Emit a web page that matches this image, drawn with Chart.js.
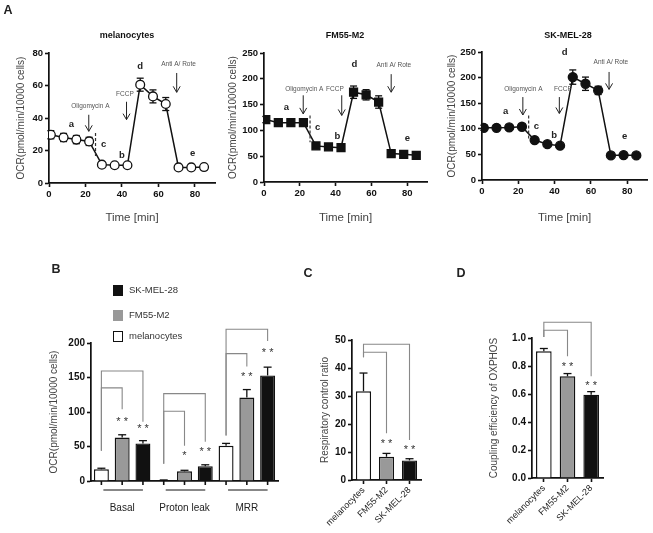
<!DOCTYPE html>
<html>
<head>
<meta charset="utf-8">
<title>Mitochondrial respiration</title>
<script src="https://cdn.jsdelivr.net/npm/chart.js@4.4.1/dist/chart.umd.min.js"></script>
<style>
  html, body { margin: 0; padding: 0; background: #fff; }
  body { position: relative; width: 653px; height: 533px; overflow: hidden; font-family: "Liberation Sans", Arial, sans-serif; }
  canvas { position: absolute; left: 0; top: 0; }
  .txt { position: absolute; transform: translate(-50%, -50%); white-space: nowrap; color: #222; }
  .panel { font-weight: bold; font-size: 12.5px; }
  .ptitle { font-weight: bold; font-size: 9px; color: #111; }
  .leg { position: absolute; font-size: 9.5px; color: #333; white-space: nowrap; }
  .leg i { position: absolute; left: -16px; top: 1px; width: 8px; height: 9px; border: 1px solid #111; }
</style>
</head>
<body>
<canvas id="a1" width="653" height="533"></canvas>
<canvas id="a2" width="653" height="533"></canvas>
<canvas id="a3" width="653" height="533"></canvas>
<canvas id="b" width="653" height="533"></canvas>
<canvas id="c" width="653" height="533"></canvas>
<canvas id="d" width="653" height="533"></canvas>
<div id="labels"></div>
<script>
// ---------- data ----------
const timePoints = [1, 8, 15, 22, 29, 36, 43, 50, 57, 64, 71, 78, 85];
const timeTicks = [0, 20, 40, 60, 80];

const melanocyteOcr = [29.7, 28, 26.7, 25.6, 11.3, 10.9, 10.9, 60.5, 53.3, 48.6, 9.6, 9.6, 9.8];
const melanocyteOcrErr = [2.5, 2.5, 2.5, 2.5, 0.6, 0.5, 0.5, 4, 4, 4, 0.4, 0.4, 0.4];
const fm55Ocr = [121, 115, 115, 115, 70, 68, 66.5, 174, 169, 155, 55, 53.6, 51.7];
const fm55OcrErr = [6, 6, 6, 6, 2, 1.5, 2, 12, 10, 12, 1.5, 1.5, 1.5];
const skmelOcr = [102, 102, 102.6, 104, 78, 70, 67, 201, 188, 175, 48, 48.7, 48];
const skmelOcrErr = [5, 5, 5, 5, 2, 1.5, 1.5, 14, 13, 8, 1.5, 1.5, 1.5];

const ocrTicksMel = [0, 20, 40, 60, 80];
const ocrTicksTumor = [0, 50, 100, 150, 200, 250];

const cellLines = ['melanocytes', 'FM55-M2', 'SK-MEL-28'];
const parameters = ['Basal', 'Proton leak', 'MRR'];
const melanocyteParams = [17, 1, 51];
const melanocyteParamsErr = [1.5, 0.5, 3.5];
const fm55Params = [63, 14, 121];
const fm55ParamsErr = [4, 1.5, 11.5];
const skmelParams = [54.5, 21.5, 153];
const skmelParamsErr = [4, 2, 12];
const paramTicks = [0, 50, 100, 150, 200];

const rcrValues = [31.7, 8.3, 7];
const rcrErr = [6.5, 1.2, 0.6];
const rcrTicks = [0, 10, 20, 30, 40, 50];

const couplingValues = [0.905, 0.726, 0.595];
const couplingErr = [0.02, 0.02, 0.022];
const couplingTicks = [0, 0.2, 0.4, 0.6, 0.8, 1.0];

// ---------- annotations (data coordinates) ----------
const melNotes = {
  letters: [['a', 12.3, 36], ['b', 40, 17], ['c', 30, 24], ['d', 50, 72], ['e', 78.8, 18]],
  drugs: [['Oligomycin A', 22.7, 47, 21.8, 42, 31.8], ['FCCP', 41.6, 54.4, 42.5, 50, 39], ['Anti A/ Rote', 71, 73, 70, 67.7, 55.8]],
  dash: [25.5, 30.8, 16.4]
};
const fm55Notes = {
  letters: [['a', 12.5, 144], ['b', 41, 88.5], ['c', 30, 105], ['d', 50.4, 228], ['e', 80, 84]],
  drugs: [['Oligomycin A', 22.5, 179, 21.9, 168, 132], ['FCCP', 39.6, 179, 43.4, 168, 129], ['Anti A/ Rote', 72.5, 227, 71, 209, 174]],
  dash: [25.7, 129, 77]
};
const skmelNotes = {
  letters: [['a', 13, 135], ['b', 39.7, 88], ['c', 30, 104], ['d', 45.5, 250], ['e', 78.6, 86]],
  drugs: [['Oligomycin A', 22.8, 177, 22.5, 162, 127], ['FCCP', 44.6, 177, 42.6, 162, 130], ['Anti A/ Rote', 71, 230, 70, 211, 177]],
  dash: [25.7, 126, 81]
};

// significance brackets: from/to = [datasetIndex, dataIndex]
const paramBrackets = [
  { from: [0, 0], to: [1, 0], top: 135, fromLow: 44, toLow: 104, star: '* *', starY: 90.5 },
  { from: [0, 0], to: [2, 0], top: 159.5, fromLow: 44, toLow: 86, star: '* *', starY: 81 },
  { from: [0, 1], to: [1, 1], top: 101, fromLow: 25, toLow: 51, star: '*', starY: 41.5 },
  { from: [0, 1], to: [2, 1], top: 126.7, fromLow: 25, toLow: 57, star: '* *', starY: 47 },
  { from: [0, 2], to: [1, 2], top: 184.6, fromLow: 66, toLow: 166, star: '* *', starY: 156 },
  { from: [0, 2], to: [2, 2], top: 220, fromLow: 66, toLow: 203, star: '* *', starY: 190 }
];
const rcrBrackets = [
  { from: [0, 0], to: [0, 1], top: 45.6, fromLow: 43.8, toLow: 16.7, star: '* *', starY: 14 },
  { from: [0, 0], to: [0, 2], top: 48.5, fromLow: 43.8, toLow: 14.3, star: '* *', starY: 11.9 }
];
const couplingBrackets = [
  { from: [0, 0], to: [0, 1], top: 1.055, fromLow: 1.007, toLow: 0.869, star: '* *', starY: 0.82 },
  { from: [0, 0], to: [0, 2], top: 1.112, fromLow: 1.007, toLow: 0.726, star: '* *', starY: 0.68 }
];

// ---------- styling helpers ----------
const W = 653, H = 533;
const FONT = '"Liberation Sans", Arial, sans-serif';
const barColors = ['#ffffff', '#999999', '#111111'];

function layoutFor(area, yW, xH) {
  return { padding: { left: area.left - yW, top: area.top, right: W - area.right, bottom: H - area.bottom - xH } };
}

function valueAxis(tickList, title, width, tickSize, fmt) {
  return {
    min: tickList[0],
    max: tickList[tickList.length - 1],
    border: { color: '#111', width: 1.7 },
    grid: { drawOnChartArea: false, tickLength: 4, tickColor: '#111', tickWidth: 1.6 },
    ticks: { padding: 2, color: '#111', font: { family: FONT, size: tickSize, weight: 'bold' }, callback: fmt || (v => v) },
    afterBuildTicks: s => { s.ticks = tickList.map(v => ({ value: v })); },
    title: { display: true, text: title, color: '#444', padding: 0, font: { family: FONT, size: 10 } },
    afterFit: s => { s.width = width; }
  };
}

function timeAxis(height) {
  return {
    type: 'linear',
    min: 0, max: 91,
    border: { color: '#111', width: 1.7 },
    grid: { drawOnChartArea: false, tickLength: 4, tickColor: '#111', tickWidth: 1.6 },
    ticks: { padding: 2, color: '#111', font: { family: FONT, size: 9.5, weight: 'bold' } },
    afterBuildTicks: s => { s.ticks = timeTicks.map(v => ({ value: v })); },
    title: { display: true, text: 'Time [min]', color: '#444', padding: 0, font: { family: FONT, size: 11.5 } },
    afterFit: s => { s.height = height; }
  };
}

function line(ctx, x1, y1, x2, y2) {
  ctx.beginPath(); ctx.moveTo(x1, y1); ctx.lineTo(x2, y2); ctx.stroke();
}

// error bars behind markers, plus arrows / letters / dashed marker
function seahorsePlugin(values, errs, notes) {
  return {
    id: 'seahorse',
    beforeDatasetsDraw(chart) {
      const { ctx, scales: { x, y } } = chart;
      ctx.save();
      ctx.strokeStyle = '#111'; ctx.lineWidth = 1.3;
      errs.forEach((e, i) => {
        const px = x.getPixelForValue(timePoints[i]);
        const yt = y.getPixelForValue(values[i] + e), yb = y.getPixelForValue(values[i] - e);
        line(ctx, px, yt, px, yb);
        line(ctx, px - 3.5, yt, px + 3.5, yt);
        line(ctx, px - 3.5, yb, px + 3.5, yb);
      });
      ctx.restore();
    },
    afterDatasetsDraw(chart) {
      const { ctx, scales: { x, y } } = chart;
      ctx.save();
      ctx.textAlign = 'center'; ctx.textBaseline = 'middle';
      ctx.fillStyle = '#222';
      ctx.font = 'bold 9.5px ' + FONT;
      notes.letters.forEach(([t, lx, ly]) => ctx.fillText(t, x.getPixelForValue(lx), y.getPixelForValue(ly)));
      ctx.font = '6.5px ' + FONT;
      ctx.fillStyle = '#555';
      ctx.strokeStyle = '#222'; ctx.lineWidth = 1;
      notes.drugs.forEach(([t, tx, ty, ax, a1, a2]) => {
        ctx.fillText(t, x.getPixelForValue(tx), y.getPixelForValue(ty));
        const px = x.getPixelForValue(ax), p1 = y.getPixelForValue(a1), p2 = y.getPixelForValue(a2);
        line(ctx, px, p1, px, p2);
        ctx.beginPath(); ctx.moveTo(px - 3.5, p2 - 6); ctx.lineTo(px, p2); ctx.lineTo(px + 3.5, p2 - 6); ctx.stroke();
      });
      const [dx, d1, d2] = notes.dash;
      ctx.setLineDash([3, 2]); ctx.lineWidth = 1.2; ctx.strokeStyle = '#333';
      line(ctx, x.getPixelForValue(dx), y.getPixelForValue(d1), x.getPixelForValue(dx), y.getPixelForValue(d2));
      ctx.restore();
    }
  };
}

function seahorseChart(id, values, errs, notes, cfg) {
  return new Chart(document.getElementById(id), {
    type: 'line',
    data: {
      datasets: [{
        data: timePoints.map((t, i) => ({ x: t, y: values[i] })),
        borderColor: '#111', borderWidth: 1.5, tension: 0,
        pointStyle: cfg.pointStyle, pointRadius: cfg.pointRadius, pointBorderWidth: 1.3,
        pointBackgroundColor: cfg.fill, pointBorderColor: '#111'
      }]
    },
    options: {
      responsive: false, animation: false, events: [],
      layout: layoutFor(cfg.area, cfg.yW, cfg.xH),
      plugins: { legend: { display: false }, tooltip: { enabled: false } },
      scales: {
        x: timeAxis(cfg.xH),
        y: valueAxis(cfg.ticks, 'OCR(pmol/min/10000 cells)', cfg.yW, 9.5)
      }
    },
    plugins: [seahorsePlugin(values, errs, notes)]
  });
}

// upper error bars, significance brackets, optional grouped ticks
function barPlugin(errors, brackets, grouped) {
  return {
    id: 'barmarks',
    afterDatasetsDraw(chart) {
      const { ctx } = chart;
      const y = chart.scales.y;
      ctx.save();
      ctx.strokeStyle = '#111'; ctx.lineWidth = 1.3;
      chart.data.datasets.forEach((ds, di) => {
        chart.getDatasetMeta(di).data.forEach((bar, i) => {
          const yt = y.getPixelForValue(ds.data[i] + errors[di][i]);
          line(ctx, bar.x, bar.y, bar.x, yt);
          line(ctx, bar.x - 4, yt, bar.x + 4, yt);
        });
      });
      if (grouped) {
        const bottom = chart.chartArea.bottom;
        ctx.lineWidth = 1.6;
        chart.data.datasets.forEach((ds, di) => {
          chart.getDatasetMeta(di).data.forEach(bar => line(ctx, bar.x, bottom, bar.x, bottom + 4));
        });
        ctx.lineWidth = 1;
        const first = chart.getDatasetMeta(0).data, last = chart.getDatasetMeta(chart.data.datasets.length - 1).data;
        first.forEach((bar, g) => line(ctx, bar.x + 2, bottom + 9, last[g].x, bottom + 9));
      }
      brackets.forEach(b => {
        const x1 = chart.getDatasetMeta(b.from[0]).data[b.from[1]].x;
        const x2 = chart.getDatasetMeta(b.to[0]).data[b.to[1]].x;
        const yt = y.getPixelForValue(b.top);
        ctx.strokeStyle = '#888'; ctx.lineWidth = 1.1;
        ctx.beginPath();
        ctx.moveTo(x1, y.getPixelForValue(b.fromLow)); ctx.lineTo(x1, yt);
        ctx.lineTo(x2, yt); ctx.lineTo(x2, y.getPixelForValue(b.toLow));
        ctx.stroke();
        ctx.fillStyle = '#333'; ctx.font = '11px ' + FONT;
        ctx.textAlign = 'center'; ctx.textBaseline = 'alphabetic';
        ctx.fillText(b.star, x2, y.getPixelForValue(b.starY) + 6.4);
      });
      ctx.restore();
    }
  };
}

// ---------- panel A ----------
seahorseChart('a1', melanocyteOcr, melanocyteOcrErr, melNotes,
  { area: { left: 49, top: 53, right: 215, bottom: 183 }, yW: 34, xH: 42, ticks: ocrTicksMel, pointStyle: 'circle', pointRadius: 4.4, fill: '#fff' });
seahorseChart('a2', fm55Ocr, fm55OcrErr, fm55Notes,
  { area: { left: 264, top: 53, right: 427, bottom: 182 }, yW: 37, xH: 43, ticks: ocrTicksTumor, pointStyle: 'rect', pointRadius: 5.6, fill: '#111' });
seahorseChart('a3', skmelOcr, skmelOcrErr, skmelNotes,
  { area: { left: 482, top: 52, right: 650, bottom: 180 }, yW: 36, xH: 45, ticks: ocrTicksTumor, pointStyle: 'circle', pointRadius: 4.5, fill: '#111' });

// ---------- panel B ----------
const bArea = { left: 91, top: 343, right: 278, bottom: 481 };
new Chart(document.getElementById('b'), {
  type: 'bar',
  data: {
    labels: parameters,
    datasets: [melanocyteParams, fm55Params, skmelParams].map((vals, i) => ({
      label: cellLines[i], data: vals,
      backgroundColor: barColors[i], borderColor: '#111', borderWidth: 1.4,
      categoryPercentage: 1.0, barPercentage: 0.72
    }))
  },
  options: {
    responsive: false, animation: false, events: [],
    layout: layoutFor(bArea, 43, 40),
    plugins: { legend: { display: false }, tooltip: { enabled: false } },
    scales: {
      x: {
        border: { color: '#111', width: 1.7 },
        grid: { display: false, drawTicks: false },
        ticks: { padding: 21, color: '#222', font: { family: FONT, size: 10 } },
        afterFit: s => { s.height = 40; }
      },
      y: valueAxis(paramTicks, 'OCR(pmol/min/10000 cells)', 43, 10)
    }
  },
  plugins: [barPlugin([melanocyteParamsErr, fm55ParamsErr, skmelParamsErr], paramBrackets, true)]
});

// ---------- panels C and D ----------
function ratioChart(id, values, errs, brackets, ticks, title, area, yW, fmt) {
  return new Chart(document.getElementById(id), {
    type: 'bar',
    data: {
      labels: cellLines,
      datasets: [{
        data: values, backgroundColor: barColors, borderColor: '#111', borderWidth: 1.4,
        categoryPercentage: 1.0, barPercentage: 0.66
      }]
    },
    options: {
      responsive: false, animation: false, events: [],
      layout: layoutFor(area, yW, 50),
      plugins: { legend: { display: false }, tooltip: { enabled: false } },
      scales: {
        x: {
          border: { color: '#111', width: 1.7 },
          grid: { offset: false, drawOnChartArea: false, tickLength: 4, tickColor: '#111', tickWidth: 1.6 },
          ticks: { padding: 1, minRotation: 45, maxRotation: 45, color: '#222', font: { family: FONT, size: 9 } },
          afterFit: s => { s.height = 50; }
        },
        y: valueAxis(ticks, title, yW, 10, fmt)
      }
    },
    plugins: [barPlugin([errs], brackets, false)]
  });
}
ratioChart('c', rcrValues, rcrErr, rcrBrackets, rcrTicks, 'Respiratory control ratio',
  { left: 352, top: 340, right: 421, bottom: 480 }, 33);
ratioChart('d', couplingValues, couplingErr, couplingBrackets, couplingTicks, 'Coupling efficiency of OXPHOS',
  { left: 532, top: 338, right: 603, bottom: 478 }, 44, v => v.toFixed(1));

// ---------- text: panel letters, titles, legend ----------
const labelBox = document.getElementById('labels');
function addText(cls, text, x, y) {
  const el = document.createElement('div');
  el.className = 'txt ' + cls; el.textContent = text;
  el.style.left = x + 'px'; el.style.top = y + 'px';
  labelBox.appendChild(el);
}
[['A', 8, 10], ['B', 56, 269], ['C', 308, 273], ['D', 461, 273]].forEach(p => addText('panel', ...p));
[[cellLines[0], 127, 35], [cellLines[1], 345, 35], [cellLines[2], 568, 35]].forEach(p => addText('ptitle', ...p));

const legendRows = [[2, 284], [1, 308.5], [0, 329.5]];
legendRows.forEach(([i, top]) => {
  const el = document.createElement('div');
  el.className = 'leg';
  el.style.left = '129px'; el.style.top = top + 'px';
  el.innerHTML = '<i></i>';
  el.firstChild.style.background = barColors[i];
  if (i === 1) el.firstChild.style.borderColor = barColors[i];
  el.appendChild(document.createTextNode(cellLines[i]));
  labelBox.appendChild(el);
});
</script>
</body>
</html>
